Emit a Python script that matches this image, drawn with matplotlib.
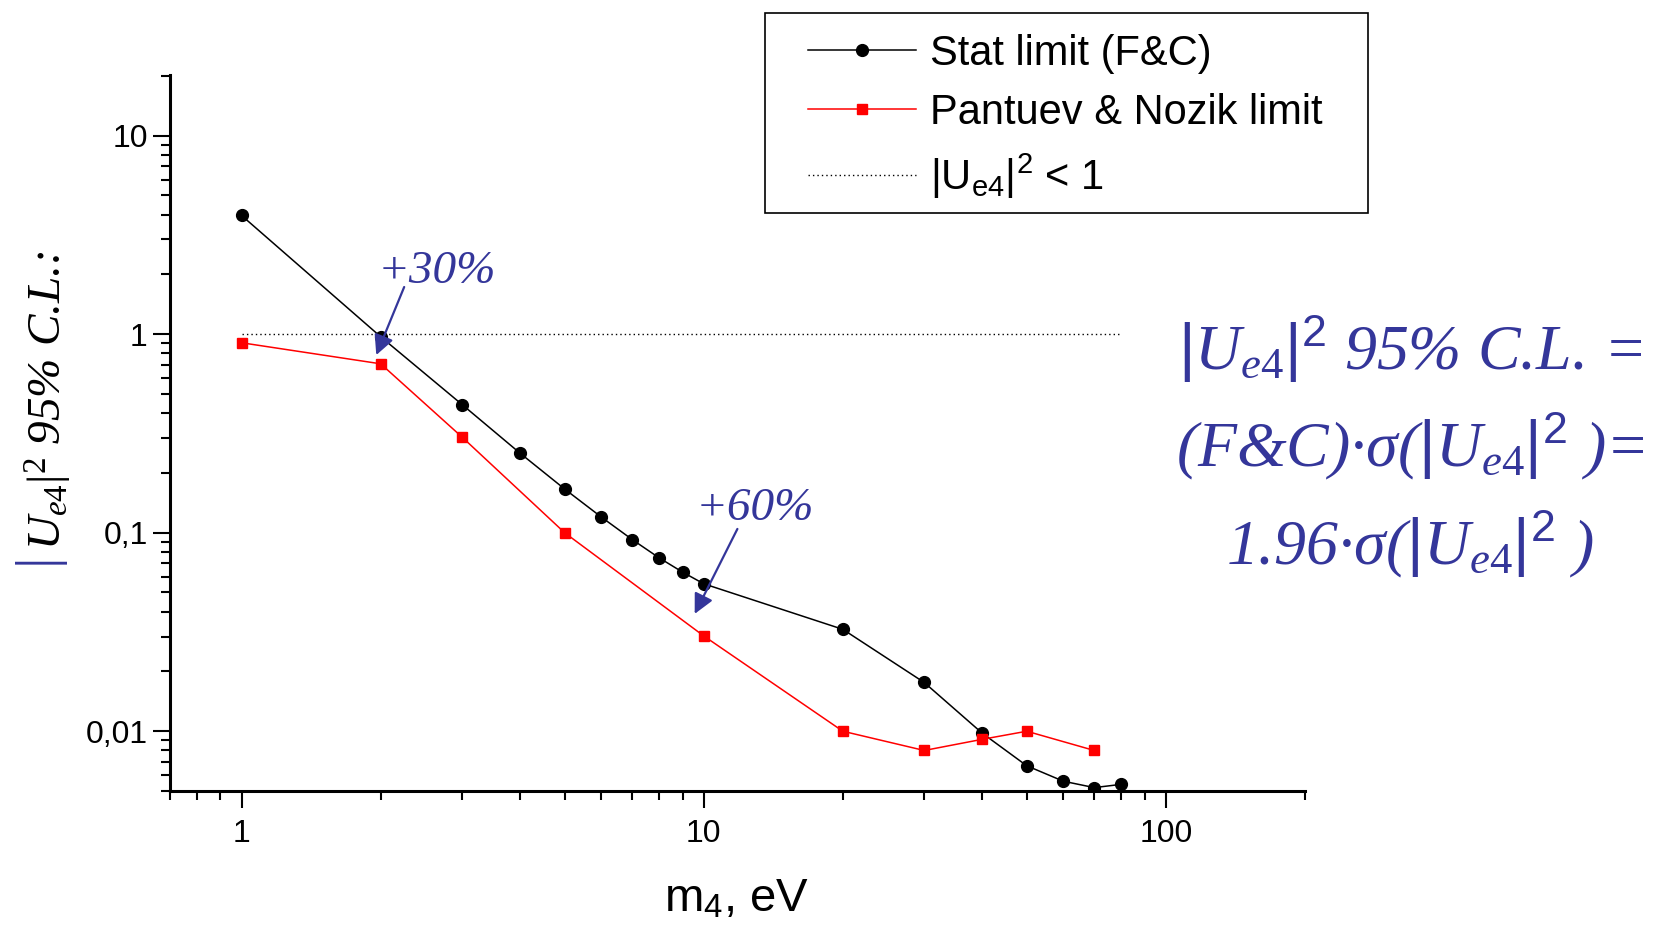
import numpy as np
import matplotlib
matplotlib.use("Agg")
import matplotlib.pyplot as plt
from matplotlib.patches import Rectangle
from matplotlib.ticker import FixedLocator, FixedFormatter, LogLocator, NullFormatter

plt.rcParams['font.family'] = ['Liberation Sans', 'DejaVu Sans']
plt.rcParams['mathtext.fontset'] = 'custom'
plt.rcParams['mathtext.it'] = 'Liberation Serif:italic'
plt.rcParams['mathtext.rm'] = 'Liberation Serif'
plt.rcParams['mathtext.sf'] = 'Liberation Sans'

# data
m_stat = [1, 2, 3, 4, 5, 6, 7, 8, 9, 10, 20, 30, 40, 50, 60, 70, 80]
u_stat = [3.96, 0.97, 0.442, 0.252, 0.166, 0.120, 0.0924, 0.0748, 0.0633, 0.0553,
          0.0326, 0.0176, 0.0098, 0.0067, 0.0056, 0.0052, 0.0054]
m_pn = [1, 2, 3, 5, 10, 20, 30, 40, 50, 70]
u_pn = [0.905, 0.709, 0.303, 0.100, 0.0302, 0.0100, 0.0080, 0.0091, 0.0100, 0.0080]
m_unit = [1, 80]
u_unit = [1, 1]

x_ticks = [1, 10, 100]
x_tick_labels = ["1", "10", "100"]
y_ticks = [0.01, 0.1, 1, 10]
y_tick_labels = ["0,01", "0,1", "1", "10"]

W, H = 1661, 925
BLUE = "#34369a"


def fx(px):
    return px / W


def fy(py):
    return 1 - py / H


fig = plt.figure(figsize=(W / 100, H / 100), dpi=100)
ax = fig.add_axes([fx(170), fy(791), fx(1305) - fx(170), fy(75) - fy(791)])
ax.set_xscale("log")
ax.set_yscale("log")
ax.set_xlim(0.7, 200)
ax.set_ylim(0.005, 20.2)

ax.plot(m_unit, u_unit, color="black", lw=1.0, linestyle=(0, (1, 2.2)),
        label=r"$\mathsf{|U_{e4}|^2}$ < 1", zorder=1)
l1, = ax.plot(m_stat, u_stat, color="black", lw=1.1, marker="o", ms=8.5,
              label="Stat limit (F&C)", zorder=2)
l2, = ax.plot(m_pn, u_pn, color="#ff0000", lw=1.1, marker="s", ms=7.5,
              label="Pantuev & Nozik limit", zorder=3)

for s in ["top", "right"]:
    ax.spines[s].set_visible(False)
for s in ["left", "bottom"]:
    ax.spines[s].set_linewidth(2.2)

ax.xaxis.set_major_locator(FixedLocator(x_ticks))
ax.xaxis.set_major_formatter(FixedFormatter(x_tick_labels))
ax.yaxis.set_major_locator(FixedLocator(y_ticks))
ax.yaxis.set_major_formatter(FixedFormatter(y_tick_labels))
ax.xaxis.set_minor_locator(LogLocator(base=10, subs=np.arange(2, 10), numticks=20))
ax.yaxis.set_minor_locator(LogLocator(base=10, subs=np.arange(2, 10), numticks=20))
ax.xaxis.set_minor_formatter(NullFormatter())
ax.yaxis.set_minor_formatter(NullFormatter())
ax.tick_params(which="major", direction="out", length=12, width=1.5)
ax.tick_params(which="minor", direction="out", length=6.5, width=1.5)
ax.tick_params(axis="x", which="major", labelsize=23, pad=8)
ax.tick_params(axis="y", which="major", labelsize=23, pad=4)

# legend: entries without frame, box drawn separately so the margins match
handles = [l1, l2, ax.lines[0]]
leg = fig.legend(handles, [h.get_label() for h in handles], loc="upper left",
                 bbox_to_anchor=(fx(808), fy(34)), fontsize=30, frameon=False,
                 handlelength=2.6, handletextpad=0.34, borderpad=0,
                 labelspacing=0.45, borderaxespad=0)
fig.patches.append(Rectangle((fx(765), fy(213)), fx(1368) - fx(765), fy(13) - fy(213),
                             transform=fig.transFigure, fill=False, lw=1.2,
                             edgecolor="black"))

# axis labels
fig.text(fx(737), fy(912), r"m$_\mathsf{4}$, eV", fontsize=34, ha="center", va="baseline")
fig.text(fx(38), fy(558), "|", color=BLUE, fontsize=42, family="Liberation Serif",
         rotation=90, ha="center", va="center")
fig.text(fx(62), fy(550), r"$U_{e4}\mathrm{|}^{2}$ 95% C.L.:", fontsize=34,
         family="Liberation Serif", style="italic", rotation=90,
         rotation_mode="anchor", ha="left", va="baseline")

# annotations
ann_kw = dict(color=BLUE, fontsize=34, family="Liberation Serif", style="italic",
              ha="center", va="baseline")
ax.annotate("", xy=(1.946, 0.762), xytext=(2.26, 1.78),
            arrowprops=dict(arrowstyle="-|>", color=BLUE, lw=1.6, mutation_scale=30))
ax.text(2.64, 1.82, "+30%", **ann_kw)
ax.annotate("", xy=(9.5, 0.0379), xytext=(11.9, 0.1075),
            arrowprops=dict(arrowstyle="-|>", color=BLUE, lw=1.6, mutation_scale=30))
ax.text(12.9, 0.1165, "+60%", **ann_kw)

# formula on the right
bar = r"$\mathsf{|}U_{e4}\mathsf{|^2}$"
formula_lines = [bar + " 95% C.L. =",
                 "(F&C)·σ(" + bar + " )=",
                 "1.96·σ(" + bar + " )"]
for line, py in zip(formula_lines, [370, 467, 565]):
    fig.text(fx(1410), fy(py), line, color=BLUE, fontsize=46,
             family="Liberation Serif", style="italic", ha="center", va="baseline")

fig.savefig("out.png", dpi=100)
